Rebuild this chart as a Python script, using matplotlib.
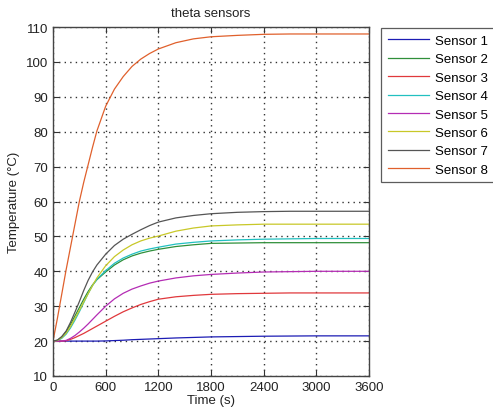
import matplotlib
matplotlib.use('Agg')
import matplotlib.pyplot as plt

plt.rcParams['font.family'] = ['Liberation Sans', 'DejaVu Sans']

#%% data
t = [0, 50, 100, 150, 200, 250, 300, 350, 400, 450, 500, 600, 700, 800,
     900, 1000, 1100, 1200, 1400, 1600, 1800, 2100, 2400, 2700, 3000, 3300, 3600]

s1 = [20, 20, 20, 20, 20, 20, 20, 20, 20, 20, 20, 20.05, 20.15, 20.25,
      20.4, 20.5, 20.6, 20.7, 20.9, 21.05, 21.2, 21.3, 21.4, 21.45, 21.5, 21.5, 21.5]
s2 = [20, 20.2, 21.2, 22.7, 24.8, 27.2, 29.6, 32, 34.2, 36.1, 37.6, 39.8, 41.8, 43.3,
      44.4, 45.2, 45.8, 46.3, 47.1, 47.6, 48.0, 48.1, 48.2, 48.2, 48.2, 48.2, 48.2]
s3 = [20, 20, 20, 20.1, 20.5, 21, 21.6, 22.2, 22.9, 23.6, 24.3, 25.7, 27.1, 28.4,
      29.5, 30.5, 31.3, 32, 32.7, 33.1, 33.4, 33.6, 33.7, 33.8, 33.8, 33.8, 33.8]
s4 = [20, 20.1, 20.8, 22, 23.8, 26, 28.4, 31, 33.6, 35.9, 37.7, 40.2, 42.3, 43.8,
      44.9, 45.8, 46.4, 46.9, 47.8, 48.3, 48.7, 49.0, 49.2, 49.3, 49.4, 49.4, 49.4]
s5 = [20, 20, 20, 20.2, 20.8, 21.6, 22.6, 23.7, 24.9, 26.2, 27.5, 30, 32.1, 33.7,
      34.9, 35.8, 36.6, 37.2, 38.1, 38.7, 39.1, 39.5, 39.8, 39.9, 40, 40, 40]
s6 = [20, 20.2, 21, 22.3, 24.2, 26.5, 28.8, 31.2, 33.6, 35.9, 38.1, 41.6, 44.2, 46.1,
      47.6, 48.7, 49.5, 50.1, 51.5, 52.4, 53.0, 53.3, 53.5, 53.5, 53.5, 53.5, 53.5]
s7 = [20, 20.3, 21.3, 22.9, 25.4, 28.3, 31.3, 34.5, 37.4, 39.8, 41.8, 44.9, 47.4, 49.2,
      50.6, 51.9, 53.1, 54.1, 55.3, 56.0, 56.5, 56.9, 57.1, 57.2, 57.2, 57.2, 57.2]
s8 = [20, 26.5, 33.5, 40.5, 47, 53.5, 60, 65.5, 70.5, 75.5, 80.2, 87.3, 92.2, 95.8,
      98.7, 100.8, 102.4, 103.7, 105.5, 106.6, 107.2, 107.6, 107.9, 108, 108, 108, 108]

series = [s1, s2, s3, s4, s5, s6, s7, s8]
names = ['Sensor 1', 'Sensor 2', 'Sensor 3', 'Sensor 4',
         'Sensor 5', 'Sensor 6', 'Sensor 7', 'Sensor 8']
colors = ['#1c1cb4', '#2f8f3a', '#e0383c', '#22c0c0',
          '#b42cb4', '#c8c828', '#555555', '#e0602c']

xticks = [0, 600, 1200, 1800, 2400, 3000, 3600]
yticks = [10, 20, 30, 40, 50, 60, 70, 80, 90, 100, 110]

#%% plot
fig = plt.figure(figsize=(4.93, 4.14), dpi=100)
ax = fig.add_axes([53 / 493, 37 / 414, 316 / 493, 349 / 414])

for y, c, n in zip(series, colors, names):
    ax.plot(t, y, color=c, lw=0.9, label=n)

ax.set_xlim(0, 3600)
ax.set_ylim(10, 110)
ax.set_xticks(xticks)
ax.set_yticks(yticks)
ax.grid(True, linestyle=(0, (1, 3)), color='#333333', lw=1.0)
ax.tick_params(direction='in', top=True, right=True, labelsize=9.5,
               length=4, colors='#333333', labelcolor='#222222')
for sp in ax.spines.values():
    sp.set_color('#444444')
    sp.set_linewidth(1.0)

ax.set_title('theta sensors', fontsize=9.5, pad=8, color='#222222')
ax.set_xlabel('Time (s)', fontsize=9.5, labelpad=1, color='#222222')
ax.set_ylabel('Temperature (°C)', fontsize=9.5, labelpad=4, color='#222222')

leg = fig.legend(loc='upper left', bbox_to_anchor=(381 / 493, 1 - 29 / 414),
                 fontsize=9.5, handlelength=3.1, handletextpad=0.5,
                 labelspacing=0.47, borderpad=0.5, fancybox=False,
                 frameon=True, borderaxespad=0)
leg.get_frame().set_edgecolor('#333333')
leg.get_frame().set_linewidth(0.9)

fig.savefig('out.png', dpi=100)
